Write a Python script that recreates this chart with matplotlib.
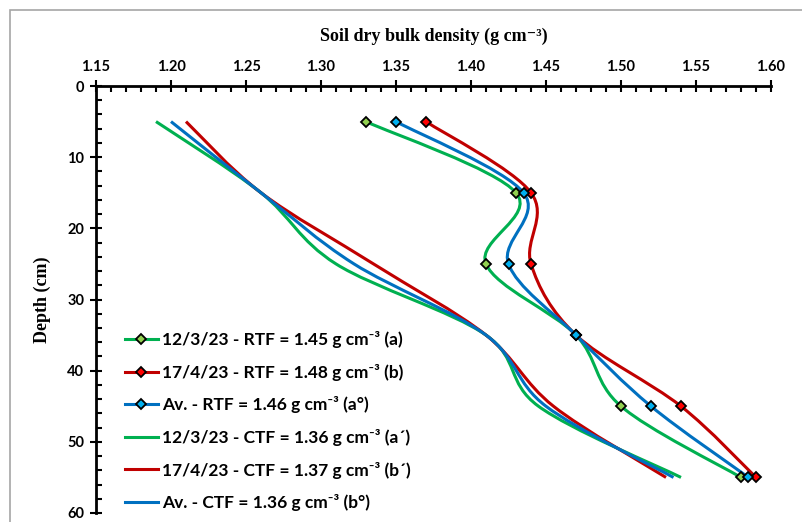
import matplotlib.pyplot as plt
from matplotlib.path import Path
from matplotlib.patches import PathPatch, Rectangle
from matplotlib.lines import Line2D
from matplotlib.ticker import MultipleLocator

# depths (cm)
depth = [5, 15, 25, 35, 45, 55]

# soil dry bulk density (g cm-3)
rtf_0312 = [1.33, 1.430, 1.410, 1.47, 1.50, 1.580]
rtf_1704 = [1.37, 1.440, 1.440, 1.47, 1.54, 1.590]
rtf_av = [1.35, 1.435, 1.425, 1.47, 1.52, 1.585]
ctf_0312 = [1.19, 1.26, 1.310, 1.41, 1.445, 1.540]
ctf_1704 = [1.21, 1.26, 1.335, 1.41, 1.455, 1.530]
ctf_av = [1.20, 1.26, 1.322, 1.41, 1.450, 1.535]

labels = ['12/3/23 - RTF = 1.45 g cm⁻³ (a)',
          '17/4/23 - RTF = 1.48 g cm⁻³ (b)',
          'Av. - RTF = 1.46 g cm⁻³ (a°)',
          '12/3/23 - CTF = 1.36 g cm⁻³ (a\u00b4)',
          '17/4/23 - CTF = 1.37 g cm⁻³ (b\u00b4)',
          'Av. - CTF = 1.36 g cm⁻³ (b°)']

green, red, blue = '#00B050', '#C00000', '#0070C0'
green_m, red_m, blue_m = '#92D050', '#FF0000', '#00B0F0'


def smooth_path(xs, ys):
    # excel style smoothed line: bezier segments with catmull-rom control points
    pts = list(zip(xs, ys))
    verts = [pts[0]]
    codes = [Path.MOVETO]
    n = len(pts)
    for i in range(n - 1):
        p0 = pts[i - 1] if i > 0 else pts[i]
        p1 = pts[i]
        p2 = pts[i + 1]
        p3 = pts[i + 2] if i + 2 < n else pts[i + 1]
        c1 = (p1[0] + (p2[0] - p0[0]) / 6, p1[1] + (p2[1] - p0[1]) / 6)
        c2 = (p2[0] - (p3[0] - p1[0]) / 6, p2[1] - (p3[1] - p1[1]) / 6)
        verts += [c1, c2, p2]
        codes += [Path.CURVE4] * 3
    return Path(verts, codes)


fig = plt.figure(figsize=(8.02, 5.22), dpi=100)
ax = fig.add_axes([96 / 802, 9 / 522, 675 / 802, 427 / 522])

series = [
    (rtf_0312, green, green_m, True),
    (rtf_1704, red, red_m, True),
    (rtf_av, blue, blue_m, True),
    (ctf_0312, green, None, False),
    (ctf_1704, red, None, False),
    (ctf_av, blue, None, False),
]

handles = []
for (vals, col, mcol, mk), lab in zip(series, labels):
    ax.add_patch(PathPatch(smooth_path(vals, depth), fill=False, edgecolor=col, lw=2.2, zorder=2))
    if mk:
        ax.plot(vals, depth, ls='none', marker='D', ms=5, mfc=mcol, mec='black', mew=1.3, zorder=3)
        handles.append(Line2D([], [], color=col, lw=2.2, marker='D', ms=5, mfc=mcol, mec='black', mew=1.3, label=lab))
    else:
        handles.append(Line2D([], [], color=col, lw=2.2, label=lab))

ax.set_xlim(1.15, 1.60)
ax.set_ylim(60, 0)
ax.xaxis.tick_top()
ax.xaxis.set_label_position('top')
ax.xaxis.set_major_locator(MultipleLocator(0.05))
ax.xaxis.set_minor_locator(MultipleLocator(0.01))
ax.yaxis.set_major_locator(MultipleLocator(10))
ax.yaxis.set_minor_locator(MultipleLocator(2))
ax.set_xticklabels([f'{v:.2f}' for v in ax.get_xticks()])

for s in ['right', 'bottom']:
    ax.spines[s].set_visible(False)
for s in ['left', 'top']:
    ax.spines[s].set_linewidth(2)

ax.tick_params(which='major', direction='inout', length=9, width=1.5, labelsize=10.5, pad=4)
ax.tick_params(which='minor', direction='in', length=4, width=1.5)
for t in ax.get_xticklabels() + ax.get_yticklabels():
    t.set_fontfamily('Lato')
    t.set_fontweight('bold')

serif = ['Liberation Serif', 'DejaVu Serif']
ax.set_xlabel('Soil dry bulk density (g cm⁻³)', fontfamily=serif, fontweight='bold',
              fontsize=13, labelpad=14)
ax.set_ylabel('Depth (cm)', fontfamily=serif, fontweight='bold', fontsize=13, labelpad=12)

leg = ax.legend(handles=handles, loc='lower left', bbox_to_anchor=(0.032, -0.012), frameon=False,
                prop={'family': ['Lato', 'DejaVu Sans'], 'weight': 'bold', 'size': 12.5},
                handlelength=1.9, handletextpad=0.25, labelspacing=0.9, borderaxespad=0.0)

# light chart-area border
fig.patches.append(Rectangle((10 / 802, -0.1), 1.0, 512 / 522 + 0.1,
                             transform=fig.transFigure, fill=False, edgecolor='#a6a6a6', lw=1.2))

fig.savefig('out.png', dpi=100)
